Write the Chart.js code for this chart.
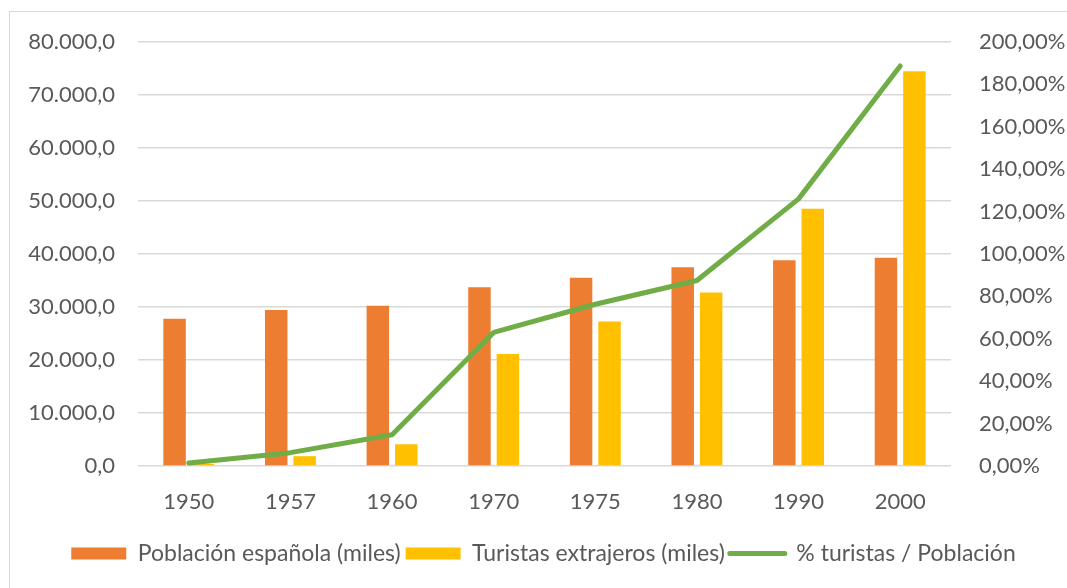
<!DOCTYPE html>
<html>
<head>
<meta charset="utf-8">
<script src="https://cdn.jsdelivr.net/npm/chart.js@4/dist/chart.umd.min.js"></script>
<style>
  html, body { margin: 0; padding: 0; background: #fff; }
  #wrap { position: relative; width: 1067px; height: 588px; overflow: hidden; }
  #marco { position: absolute; left: 9px; top: 11px; width: 1080px; height: 600px;
           border-left: 1px solid #d9d9d9; border-top: 1px solid #d9d9d9; }
  canvas { position: absolute; left: 0; top: 0; }
</style>
</head>
<body>
<div id="wrap">
  <div id="marco"></div>
  <canvas id="grafiek" width="1067" height="588"></canvas>
</div>
<script>
// jaren op de x-as
let jaren = ['1950', '1957', '1960', '1970', '1975', '1980', '1990', '2000']
// bevolking Spanje (duizenden)
let poblacion = [27800, 29450, 30250, 33750, 35500, 37500, 38800, 39300]
// buitenlandse toeristen (duizenden)
let turistas = [400, 1850, 4100, 21150, 27250, 32750, 48550, 74500]
// toeristen / bevolking in procenten
let porcentaje = [1.4, 6.3, 14.7, 63.0, 76.3, 87.5, 126.0, 188.7]

let kleurBevolking = '#ED7D31'
let kleurToeristen = '#FFC000'
let kleurLijn = '#70AD47'
let tekstKleur = '#595959'
let rasterKleur = '#d9d9d9'

Chart.defaults.font.family = 'Lato, "Open Sans", sans-serif'
Chart.defaults.font.size = 22
Chart.defaults.color = tekstKleur

// 80000 -> "80.000,0"
function miles(v) {
	return Math.round(v).toString().replace(/\B(?=(\d{3})+(?!\d))/g, '.') + ',0'
}

let ctx = document.getElementById('grafiek').getContext('2d')

let chart = new Chart(ctx, {
	type: 'bar',
	data: {
		labels: jaren,
		datasets: [{
			label: 'Población española (miles)',
			data: poblacion,
			backgroundColor: kleurBevolking,
			borderWidth: 0,
			yAxisID: 'y',
			order: 1
		}, {
			label: 'Turistas extrajeros (miles)',
			data: turistas,
			backgroundColor: kleurToeristen,
			borderWidth: 0,
			yAxisID: 'y',
			order: 1
		}, {
			type: 'line',
			label: '% turistas / Población',
			data: porcentaje,
			borderColor: kleurLijn,
			backgroundColor: kleurLijn,
			borderWidth: 5,
			borderCapStyle: 'round',
			borderJoinStyle: 'round',
			pointRadius: 0,
			tension: 0,
			yAxisID: 'y2',
			order: 0
		}]
	},
	options: {
		responsive: false,
		animation: false,
		categoryPercentage: 0.56,
		barPercentage: 0.79,
		layout: { padding: { top: 42, left: 20, right: 0, bottom: 13 } },
		plugins: {
			tooltip: { enabled: false },
			legend: {
				position: 'bottom',
				labels: {
					usePointStyle: true,
					pointStyleWidth: 55,
					boxWidth: 55,
					boxHeight: 12,
					padding: 5,
					font: { size: 23 },
					color: tekstKleur,
					sort: function (a, b) { return a.datasetIndex - b.datasetIndex },
					generateLabels: function (c) {
						let items = Chart.defaults.plugins.legend.labels.generateLabels(c)
						items.forEach(function (it) {
							if (it.datasetIndex == 2) {
								it.pointStyle = 'line'
								it.lineWidth = 5
								it.lineCap = 'round'
								it.strokeStyle = kleurLijn
							} else {
								it.pointStyle = 'rect'
								it.lineWidth = 0
							}
						})
						return items
					}
				}
			}
		},
		scales: {
			x: {
				grid: { display: false, drawTicks: false },
				border: { display: false },
				ticks: { padding: 23, color: tekstKleur },
				afterFit: function (s) { s.height = 71 }
			},
			y: {
				position: 'left',
				min: 0,
				max: 80000,
				ticks: { stepSize: 10000, padding: 23, color: tekstKleur, callback: miles },
				grid: { color: rasterKleur, lineWidth: 1.5, drawTicks: false },
				border: { display: false },
				afterFit: function (s) { s.width = 118 }
			},
			y2: {
				position: 'right',
				min: 0,
				max: 200,
				ticks: {
					stepSize: 20, padding: 28, color: tekstKleur,
					callback: function (v) { return v.toFixed(2).replace('.', ',') + '%' }
				},
				grid: { display: false, drawTicks: false },
				border: { display: false },
				afterFit: function (s) { s.width = 116 }
			}
		}
	}
})
</script>
</body>
</html>
